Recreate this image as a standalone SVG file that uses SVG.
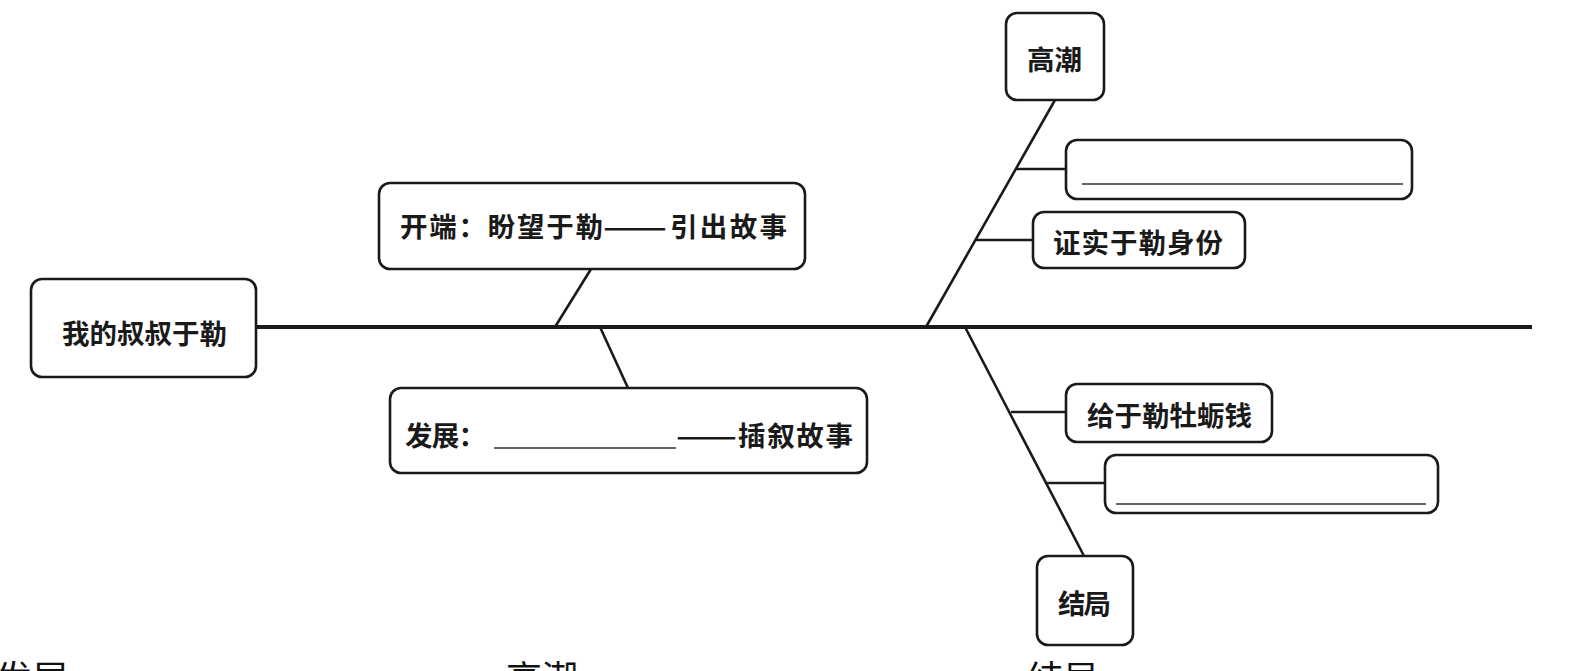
<svg xmlns="http://www.w3.org/2000/svg" width="1581" height="671" viewBox="0 0 1581 671">
<style>
.box{fill:#fff;stroke:#1a1a1a;stroke-width:2.6}
.ln{stroke:#1a1a1a;stroke-width:2.6;fill:none;stroke-linecap:round}
.spine{stroke:#1a1a1a;stroke-width:3.8;fill:none}
.blank{stroke:#333;stroke-width:1.4}
.t{font-family:"Noto Sans CJK SC","Noto Sans",sans-serif;font-size:27.5px;font-weight:600;fill:#1a1a1a;dominant-baseline:central}
.big{font-family:"Noto Sans CJK SC","Noto Sans",sans-serif;font-size:36px;fill:#111}
</style>
<rect width="1581" height="671" fill="#fff"/>
<g id="connectors">
<line class="spine" x1="256" y1="327" x2="1532" y2="327"/>
<line class="ln" x1="591" y1="269" x2="555" y2="327"/>
<line class="ln" x1="600" y1="327" x2="628" y2="388"/>
<line class="ln" x1="1055" y1="100" x2="926" y2="327"/>
<line class="ln" x1="1017" y1="169" x2="1066" y2="169"/>
<line class="ln" x1="977" y1="240" x2="1033" y2="240"/>
<line class="ln" x1="965" y1="327" x2="1084" y2="556"/>
<line class="ln" x1="1012" y1="412" x2="1066" y2="412"/>
<line class="ln" x1="1048" y1="483" x2="1105" y2="483"/>
</g>
<g id="root">
<rect class="box" x="31" y="279" width="225" height="98" rx="11"/>
<text class="t" x="62" y="332" textLength="165" lengthAdjust="spacing">我的叔叔于勒</text>
</g>
<g id="kaiduan">
<rect class="box" x="379" y="183" width="426" height="86" rx="11"/>
<text class="t" x="400" y="225" textLength="203" lengthAdjust="spacing">开端：盼望于勒</text>
<text class="t" x="603" y="225" textLength="64" lengthAdjust="spacingAndGlyphs">——</text>
<text class="t" x="670" y="225" textLength="117" lengthAdjust="spacing">引出故事</text>
</g>
<g id="fazhan">
<rect class="box" x="390" y="388" width="477" height="85" rx="11"/>
<text class="t" x="405" y="434" textLength="81" lengthAdjust="spacing">发展：</text>
<line class="blank" x1="494" y1="448" x2="676" y2="448"/>
<text class="t" x="676" y="434" textLength="61" lengthAdjust="spacingAndGlyphs">——</text>
<text class="t" x="738" y="434" textLength="115" lengthAdjust="spacing">插叙故事</text>
</g>
<g id="gaochao">
<rect class="box" x="1006" y="13" width="98" height="87" rx="11"/>
<text class="t" x="1027" y="58" textLength="55" lengthAdjust="spacing">高潮</text>
</g>
<g id="blank1">
<rect class="box" x="1066" y="140" width="346" height="59" rx="11"/>
<line class="blank" x1="1082" y1="184" x2="1403" y2="184"/>
</g>
<g id="zhengshi">
<rect class="box" x="1033" y="212" width="212" height="56" rx="11"/>
<text class="t" x="1053" y="241" textLength="170" lengthAdjust="spacing">证实于勒身份</text>
</g>
<g id="geiyule">
<rect class="box" x="1066" y="384" width="206" height="58" rx="11"/>
<text class="t" x="1087" y="414" textLength="165" lengthAdjust="spacing">给于勒牡蛎钱</text>
</g>
<g id="blank2">
<rect class="box" x="1105" y="455" width="333" height="58" rx="11"/>
<line class="blank" x1="1116" y1="504" x2="1426" y2="504"/>
</g>
<g id="jieju">
<rect class="box" x="1037" y="556" width="96" height="89" rx="11"/>
<text class="t" x="1058" y="602" textLength="53" lengthAdjust="spacing">结局</text>
</g>
<g id="cutoff">
<text class="big" x="-4" y="692">发展</text>
<text class="big" x="506" y="692">高潮</text>
<text class="big" x="1027" y="692">结局</text>
</g>
</svg>
